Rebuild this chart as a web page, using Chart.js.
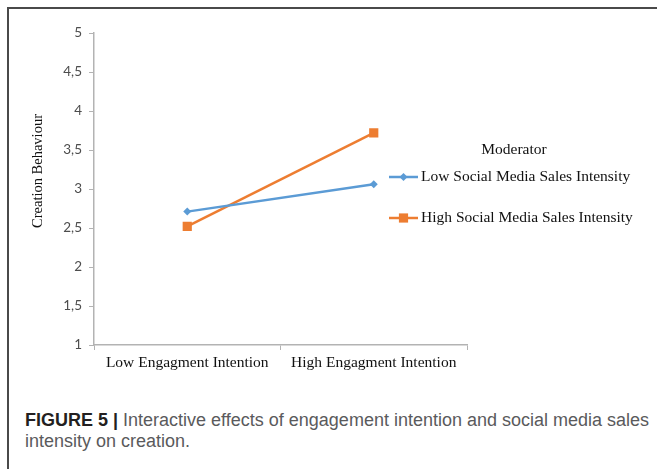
<!DOCTYPE html>
<html>
<head>
<meta charset="utf-8">
<script src="https://cdn.jsdelivr.net/npm/chart.js@4"></script>
<style>
  body { margin: 0; background: #fff; overflow: hidden; }
  #wrap { position: absolute; left: 0; top: 0; width: 657px; height: 385px; }
  #frame { position: absolute; left: 7px; top: 7px; width: 650px; height: 462px;
           border-top: 2px solid #4a4a4a; border-left: 2px solid #4a4a4a; }
  #caption { position: absolute; left: 25px; top: 410px; width: 630px;
             font-family: "Liberation Sans", Arial, sans-serif; font-size: 18px;
             line-height: 21px; color: #5a5a5c; }
  #caption b { color: #231f20; }
</style>
</head>
<body>
<div id="frame"></div>
<div id="wrap"><canvas id="chart"></canvas></div>
<div id="caption"><b>FIGURE 5 |</b> Interactive effects of engagement intention and social media sales intensity on creation.</div>
<script>
const categories = ['Low Engagment Intention', 'High Engagment Intention'];
const seriesNames = ['Low Social Media Sales Intensity', 'High Social Media Sales Intensity'];
const lowIntensity = [2.71, 3.06];
const highIntensity = [2.52, 3.72];
const yMin = 1, yMax = 5, yStep = 0.5;
const yTitle = 'Creation Behaviour';
const legendTitle = 'Moderator';

const serif = '"Liberation Serif", "Times New Roman", serif';

// draws axis title and the Excel-like legend (line + marker samples)
const extras = {
    id: 'extras',
    afterDraw(chart) {
        const ctx = chart.ctx;
        ctx.save();
        ctx.fillStyle = '#111';
        ctx.font = '14.5px ' + serif;
        ctx.textAlign = 'center';
        ctx.textBaseline = 'middle';
        ctx.translate(38, 171);
        ctx.rotate(-Math.PI / 2);
        ctx.fillText(yTitle, 0, 0);
        ctx.restore();

        ctx.save();
        ctx.font = '15.5px ' + serif;
        ctx.fillStyle = '#111';
        ctx.textBaseline = 'middle';
        ctx.textAlign = 'center';
        ctx.fillText(legendTitle, 514, 150);
        ctx.textAlign = 'left';
        const rows = [177, 218];
        chart.data.datasets.forEach((ds, i) => {
            const y = rows[i];
            ctx.strokeStyle = ds.borderColor;
            ctx.lineWidth = ds.borderWidth;
            ctx.beginPath();
            ctx.moveTo(389, y);
            ctx.lineTo(418, y);
            ctx.stroke();
            ctx.fillStyle = ds.borderColor;
            Chart.helpers.drawPoint(ctx, { pointStyle: ds.pointStyle, radius: ds.pointRadius, borderWidth: 0 }, 403.5, y);
            ctx.fillStyle = '#111';
            ctx.fillText(ds.label, 421, y);
        });
        ctx.restore();
    }
};

const ctx = document.getElementById('chart').getContext('2d');
const chart = new Chart(ctx, {
    type: 'line',
    data: {
        labels: categories,
        datasets: [{
            label: seriesNames[0],
            data: lowIntensity,
            borderColor: '#5b9bd5',
            backgroundColor: '#5b9bd5',
            borderWidth: 2.5,
            pointStyle: 'rectRot',
            pointRadius: 4,
            pointBorderWidth: 0,
            tension: 0
        }, {
            label: seriesNames[1],
            data: highIntensity,
            borderColor: '#ed7d31',
            backgroundColor: '#ed7d31',
            borderWidth: 2.5,
            pointStyle: 'rect',
            pointRadius: 6.5,
            pointBorderWidth: 0,
            tension: 0
        }]
    },
    options: {
        responsive: true,
        maintainAspectRatio: false,
        animation: false,
        layout: { padding: { left: 0, top: 33, right: 190, bottom: 0 } },
        plugins: { legend: { display: false }, tooltip: { enabled: false } },
        scales: {
            x: {
                offset: true,
                grid: { display: true, drawOnChartArea: false, offset: true, tickLength: 5, color: '#b3b3b3' },
                border: { color: '#b3b3b3', width: 1.5 },
                ticks: { color: '#111', padding: 4, font: { family: serif, size: 15.5 } },
                afterFit(scale) { scale.height = 40; }
            },
            y: {
                min: yMin,
                max: yMax,
                grid: { display: true, drawOnChartArea: false, tickLength: 5, color: '#b3b3b3' },
                border: { color: '#b3b3b3', width: 1.5 },
                ticks: {
                    stepSize: yStep,
                    color: '#4d4d4d',
                    padding: 7,
                    font: { family: 'Lato, "Open Sans", sans-serif', size: 13.5 },
                    callback: v => String(v).replace('.', ',')
                },
                afterFit(scale) { scale.width = 94; }
            }
        }
    },
    plugins: [extras]
});
</script>
</body>
</html>
